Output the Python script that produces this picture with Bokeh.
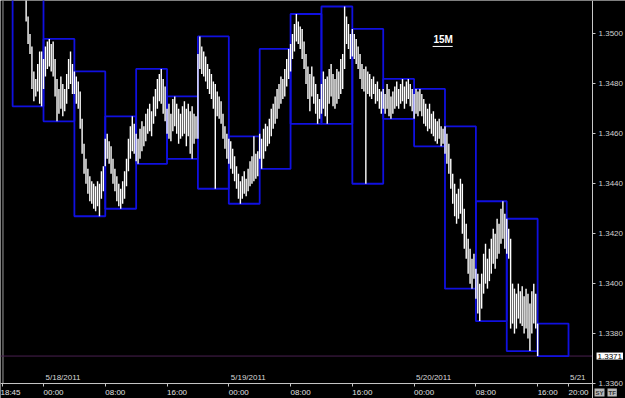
import numpy as np
from bokeh.plotting import figure
from bokeh.models import (Range1d, LinearAxis, FixedTicker, Label,
                          ColumnDataSource, NumeralTickFormatter)
from bokeh.core.properties import value
from bokeh.embed import file_html
from bokeh.resources import INLINE

# ---------------- data ----------------
# EUR/USD 15-minute bars, 5/17/2011 18:45 .. 5/20/2011 16:00
# prices stored in pips above 1.3300 (price = 1.3300 + pips / 10000)
BASE_PRICE = 1.3300
first_bar_hour = -5.25          # hours relative to 5/18/2011 00:00
bar_hours = 0.25                # 15 minutes
box_hours = 4.0                 # range boxes every 4 hours
box_first_hour = -4.0

high_pips = [
    226, 228, 227, 225, 224,
    225, 224, 222, 223, 220, 219, 218, 216, 207, 200, 195, 185, 182, 188, 193, 193,
    190, 195, 197, 198, 196, 197, 190, 182, 178, 183, 180, 178, 184, 190, 193, 188,
    185, 183, 181, 177, 166, 156, 150, 146, 143, 141, 140, 139, 141, 140, 145, 147,
    158, 160, 157, 155, 150, 146, 143, 140, 138, 141, 145, 150, 158, 163, 167, 164,
    160, 158, 162, 165, 163, 168, 170, 172, 169, 175, 178, 182, 184, 186, 182, 179,
    170, 172, 168, 174, 175, 172, 170, 168, 171, 173, 170, 172, 169, 171, 168, 167,
    192, 199, 195, 193, 191, 188, 186, 184, 181, 180, 177, 175, 173, 168, 163, 160,
    158, 157, 154, 151, 147, 144, 141, 143, 145, 142, 146, 149, 151, 159, 152, 153,
    160, 158, 162, 164, 163, 166, 170, 172, 175, 178, 180, 183, 182, 186, 190, 194,
    196, 200, 204, 208, 205, 203, 202, 197, 192, 187, 184, 187, 183, 180, 176, 174,
    180, 185, 182, 183, 186, 188, 184, 182, 186, 185, 190, 192, 211, 207, 204, 200,
    202, 200, 198, 195, 192, 188, 186, 187, 185, 184, 182, 183, 180, 181, 178, 177,
    178, 176, 180, 178, 175, 177, 179, 181, 178, 180, 182, 179, 181, 182, 180, 178,
    176, 178, 177, 178, 176, 174, 172, 170, 172, 168, 169, 166, 165, 166, 163, 162,
    163, 160, 156, 150, 144, 140, 136, 138, 142, 140, 130, 124, 118, 114, 110, 112,
    106, 104, 100, 104, 112, 116, 110, 114, 118, 122, 120, 126, 124, 130, 133, 128,
    126, 122, 118, 100, 98, 96, 100, 97, 99, 95, 98, 96, 92, 97, 100, 96,
    84,
]
low_pips = [
    220, 221, 219, 218, 217,
    218, 217, 216, 215, 215, 214, 214, 205, 196, 192, 178, 173, 175, 177, 172, 171,
    178, 183, 186, 187, 185, 183, 175, 165, 168, 170, 167, 169, 172, 178, 180, 176,
    176, 172, 170, 162, 152, 144, 140, 136, 133, 132, 130, 129, 131, 127, 134, 137,
    147, 150, 148, 144, 140, 137, 133, 131, 130, 132, 134, 139, 145, 150, 153, 152,
    149, 148, 150, 153, 155, 157, 160, 161, 159, 164, 167, 170, 173, 172, 168, 165,
    160, 158, 157, 161, 163, 160, 156, 158, 159, 160, 155, 159, 152, 150, 156, 158,
    158, 186, 184, 183, 181, 178, 176, 174, 170, 138, 167, 166, 164, 158, 154, 150,
    148, 146, 144, 141, 138, 134, 132, 134, 136, 135, 137, 139, 140, 141, 142, 143,
    150, 146, 150, 153, 155, 156, 159, 162, 164, 166, 170, 172, 174, 175, 179, 182,
    185, 190, 193, 197, 196, 194, 190, 186, 180, 174, 169, 175, 172, 168, 164, 166,
    168, 170, 167, 164, 172, 175, 171, 170, 172, 174, 176, 178, 186, 196, 194, 190,
    191, 190, 188, 186, 182, 178, 177, 140, 176, 175, 174, 176, 172, 173, 170, 168,
    170, 168, 170, 167, 166, 168, 170, 171, 170, 172, 173, 170, 172, 174, 171, 169,
    166, 168, 167, 169, 167, 164, 163, 161, 162, 160, 159, 157, 156, 158, 155, 156,
    152, 148, 144, 138, 132, 127, 124, 126, 128, 120, 114, 110, 104, 100, 98, 102,
    94, 88, 85, 90, 96, 100, 98, 101, 104, 108, 106, 110, 112, 116, 118, 114,
    112, 110, 82, 84, 80, 82, 86, 84, 83, 80, 82, 78, 73, 80, 84, 82,
    71,
]
last_price = 1.3371
timeframe_label = "15M"

price_ticks = [1.3360, 1.3380, 1.3400, 1.3420, 1.3440, 1.3460, 1.3480, 1.3500]
time_tick_hours = [-5.25, 0.0, 8.0, 16.0, 24.0, 32.0, 40.0, 48.0, 56.0, 64.0, 68.0]
time_tick_labels = ["18:45", "00:00", "08:00", "16:00", "00:00", "08:00",
                    "16:00", "00:00", "08:00", "16:00", "20:00"]
date_hours = [0.0, 24.0, 48.0]
date_labels = ["5/18/2011", "5/19/2011", "5/20/2011"]
next_date_label = "5/21"
button_labels = ["SY", "TF"]

# ---------------- derived ----------------
highs = BASE_PRICE + np.array(high_pips) / 10000.0
lows = BASE_PRICE + np.array(low_pips) / 10000.0
n = len(highs)
t = first_bar_hour + np.arange(n) * bar_hours

box_left, box_right, box_top, box_bot = [], [], [], []
k = 0
while True:
    start = box_first_hour + k * box_hours
    if start > t[-1]:
        break
    m = (t >= start - 1e-9) & (t < start + box_hours - 1e-9)
    if m.any():
        box_left.append(start)
        box_right.append(start + box_hours)
        box_top.append(highs[m].max())
        box_bot.append(lows[m].min())
    k += 1

FONT = "Liberation Sans"
# chart window; the price scale sits at axis_hour, the time scale at axis_price
x_start, x_end = -5.57, 75.38
axis_hour = 71.11
y_start, y_end = 1.33540, 1.35134
axis_price = price_ticks[0]

p = figure(width=625, height=398, x_range=Range1d(x_start, x_end),
           y_range=Range1d(y_start, y_end), output_backend="svg",
           toolbar_location=None, background_fill_color="black",
           border_fill_color="black", min_border=0,
           x_axis_location=None, y_axis_location=None)
p.grid.visible = False
p.outline_line_color = None

# left frame line, time axis line and current price line
p.segment(x0=[first_bar_hour], x1=[first_bar_hour], y0=[axis_price], y1=[y_end],
          line_color="#9a9a9a", line_width=1)
p.segment(x0=[x_start], x1=[axis_hour], y0=[axis_price], y1=[axis_price],
          line_color="#c8c8c8", line_width=1)
p.segment(x0=[x_start], x1=[axis_hour], y0=[last_price], y1=[last_price],
          line_color="#4a2050", line_width=1)

# 4-hour range boxes
p.quad(left=box_left, right=box_right, top=box_top, bottom=box_bot,
       fill_alpha=0, line_color="#1010e0", line_width=1.8)

# 15-minute bars
src = ColumnDataSource(dict(t=t, hi=highs, lo=lows))
p.segment(x0="t", y0="lo", x1="t", y1="hi", source=src,
          line_color="white", line_width=1.4)

# timeframe label
p.text(x=[50.5], y=[1.34976], text=[timeframe_label], text_color="white",
       text_font=value(FONT), text_font_size="10px", text_font_style="bold",
       text_baseline="middle")
p.segment(x0=[50.4], x1=[53.0], y0=[1.34950], y1=[1.34950],
          line_color="white", line_width=1)

# date labels
p.text(x=date_hours, y=[axis_price] * len(date_hours), text=date_labels,
       text_color="#d8d8d8", text_font=value(FONT), text_font_size="8px",
       text_baseline="bottom", x_offset=2, y_offset=-2)
p.text(x=[axis_hour], y=[axis_price], text=[next_date_label], text_align="right",
       text_color="#d8d8d8", text_font=value(FONT), text_font_size="8px",
       text_baseline="bottom", x_offset=-7, y_offset=-2)

# right price axis (fixed at the right end of the chart area)
yax = LinearAxis(ticker=FixedTicker(ticks=price_ticks),
                 formatter=NumeralTickFormatter(format="0.0000"),
                 fixed_location=axis_hour)
yax.axis_line_color = "#c8c8c8"
yax.major_tick_line_color = "#c8c8c8"
yax.major_tick_out = 3
yax.major_tick_in = 0
yax.minor_tick_line_color = None
yax.major_label_standoff = 3
yax.major_label_text_color = "#d0d0d0"
yax.major_label_text_font = FONT
yax.major_label_text_font_size = "8px"
p.add_layout(yax, "right")

# bottom time axis (labels start at their tick: pad with figure spaces of equal width)
PAD = "\u2007\u2007\u2008\u2007\u2007"
overrides = {}
for i, (h, s) in enumerate(zip(time_tick_hours, time_tick_labels)):
    overrides[h] = s if i == 0 else PAD + s
xax = LinearAxis(ticker=FixedTicker(ticks=time_tick_hours),
                 major_label_overrides=overrides, fixed_location=axis_price)
xax.axis_line_color = None
xax.major_tick_line_color = "#c8c8c8"
xax.major_tick_out = 3
xax.major_tick_in = 0
xax.minor_tick_line_color = None
xax.major_label_standoff = 1
xax.major_label_text_color = "#e0e0e0"
xax.major_label_text_font = FONT
xax.major_label_text_font_size = "8px"
p.add_layout(xax, "below")

# last price tag
p.add_layout(Label(x=axis_hour, y=last_price, x_offset=4,
                   text=f"{last_price:.4f}", text_color="black", text_font=FONT,
                   text_font_size="8px", text_baseline="middle",
                   background_fill_color="white", padding=1))

# small toolbar buttons (screen pixels from the bottom-left corner)
for bx, lab in zip([594, 607], button_labels):
    p.add_layout(Label(x=bx, y=6, x_units="screen", y_units="screen",
                       text=lab, text_color="#303030", text_font=FONT,
                       text_font_size="6px", text_font_style="bold",
                       text_baseline="middle", background_fill_color="#b8b8b8",
                       padding=1))

open("out.html", "w").write(file_html(p, INLINE))
